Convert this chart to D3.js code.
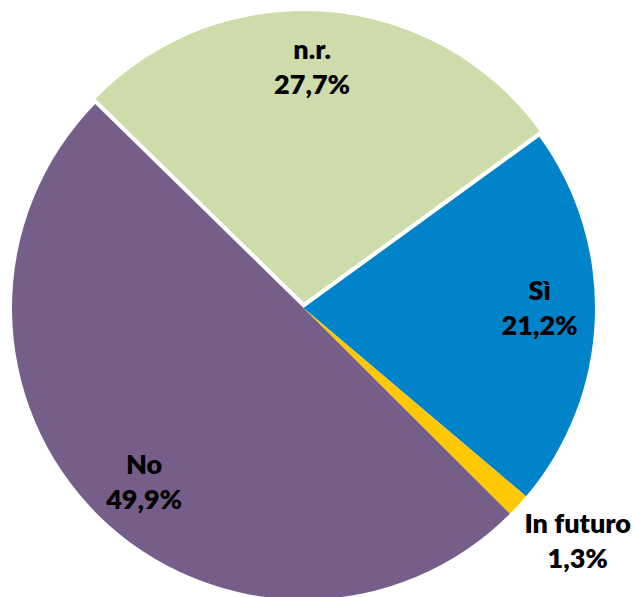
<!DOCTYPE html>
<html>
<head>
<meta charset="utf-8">
<script src="https://cdn.jsdelivr.net/npm/d3@7"></script>
<style>
  html, body { margin: 0; padding: 0; background: #ffffff; }
  svg { display: block; }
  .lbl { font-family: "Century Gothic", Lato, "DejaVu Sans", sans-serif; font-weight: 800; fill: #000; }
</style>
</head>
<body>
<svg id="chart" width="635" height="597"></svg>
<script>
// Survey answers and their shares (%)
const categories = ["Sì", "In futuro", "No", "n.r."];
const values = [21.2, 1.3, 49.9, 27.7];
const valueLabels = ["21,2%", "1,3%", "49,9%", "27,7%"];
const colors = ["#0083C9", "#FFC805", "#765E8A", "#CDDCAA"];
const pulledOut = ["n.r."];

const width = 635, height = 597;
const cx = 303.5, cy = 308, radius = 291.5;
const pullDistance = 5.5;

const svg = d3.select("#chart");
const g = svg.append("g").attr("transform", `translate(${cx},${cy})`);

const data = categories.map((c, i) => ({ cat: c, value: values[i], label: valueLabels[i], color: colors[i] }));

const startAngle = 54 * Math.PI / 180;
const pie = d3.pie()
  .value(d => d.value)
  .sort(null)
  .startAngle(startAngle)
  .endAngle(startAngle + 2 * Math.PI);

const arcs = pie(data);
const arc = d3.arc().innerRadius(0).outerRadius(radius);

function offsetFor(a) {
  if (!pulledOut.includes(a.data.cat)) return [0, 0];
  const mid = (a.startAngle + a.endAngle) / 2;
  return [Math.sin(mid) * pullDistance, -Math.cos(mid) * pullDistance];
}

g.selectAll("path.slice")
  .data(arcs)
  .join("path")
  .attr("class", "slice")
  .attr("d", arc)
  .attr("fill", d => d.data.color)
  .attr("transform", d => {
    const [ox, oy] = offsetFor(d);
    return `translate(${ox},${oy})`;
  });

// Labels: inside the slice for larger shares, outside for very small ones
const fontSize = 27;
const lineGap = 35;
const labelTurn = -2.2 * Math.PI / 180;
arcs.forEach(a => {
  const mid = (a.startAngle + a.endAngle) / 2 + labelTurn;
  const share = (a.endAngle - a.startAngle) / (2 * Math.PI);
  const rFactor = share < 0.03 ? 1.235 : 0.81;
  const [ox, oy] = offsetFor(a);
  const x = Math.sin(mid) * radius * rFactor + ox;
  const y = -Math.cos(mid) * radius * rFactor + oy;
  const t = g.append("text")
    .attr("class", "lbl")
    .attr("text-anchor", "middle")
    .attr("font-size", fontSize)
    .attr("x", x)
    .attr("y", y);
  t.append("tspan").attr("x", x).attr("y", y - lineGap / 2 + fontSize * 0.36).text(a.data.cat);
  t.append("tspan").attr("x", x).attr("y", y + lineGap / 2 + fontSize * 0.36).text(a.data.label);
});
</script>
</body>
</html>
